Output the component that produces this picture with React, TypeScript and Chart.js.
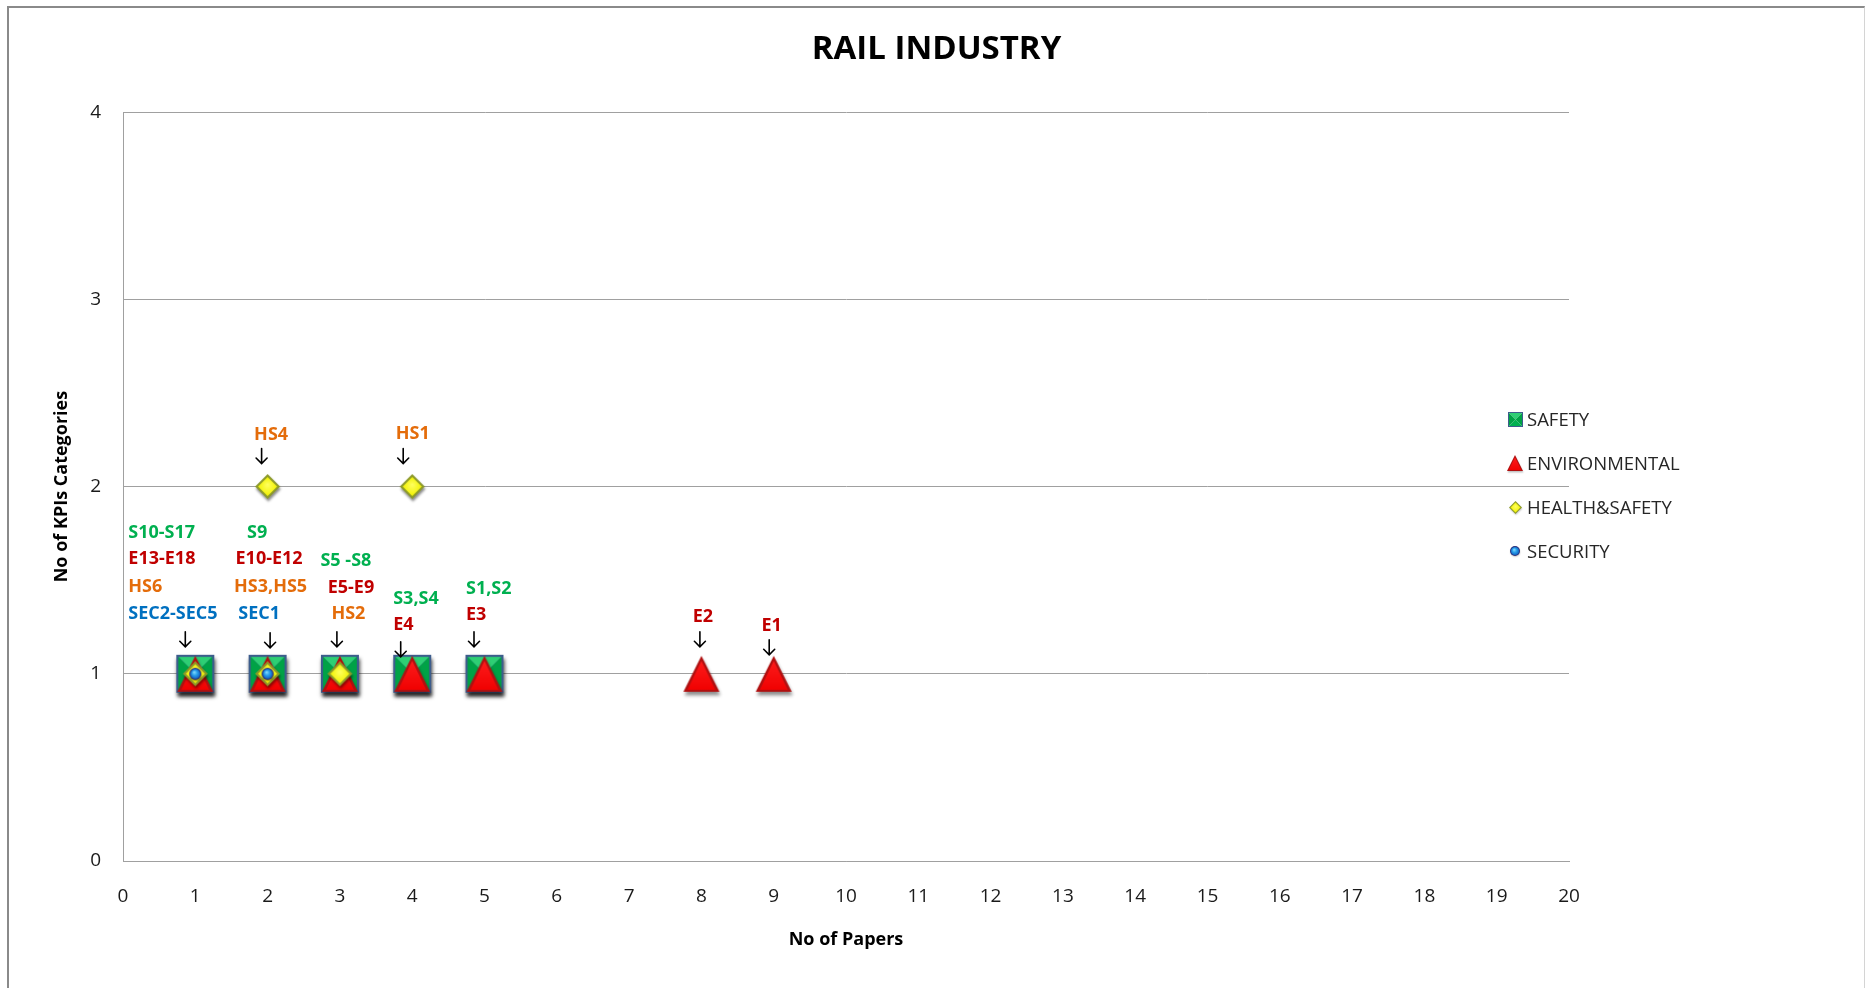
import React, { useEffect, useRef } from "react";
import { Chart, registerables } from "chart.js";

Chart.register(...registerables);

// ---------------- data ----------------
const X_TICKS = [0, 20];
const Y_TICKS = [0, 4];

const SERIES_LABELS = ["SAFETY", "ENVIRONMENTAL", "HEALTH&SAFETY", "SECURITY"];

const SAFETY_X = [1, 2, 3, 4, 5];
const SAFETY_Y = [1, 1, 1, 1, 1];

const ENV_X = [1, 2, 3, 4, 5, 8, 9];
const ENV_Y = [1, 1, 1, 1, 1, 1, 1];

const HS_X = [1, 2, 3, 2, 4];
const HS_Y = [1, 1, 1, 2, 2];

const SEC_X = [1, 2];
const SEC_Y = [1, 1];

// annotation groups (anchored on data points)
const NOTE_X = [1, 2, 3, 4, 5, 8, 9, 2, 4];
const NOTE_Y = [1, 1, 1, 1, 1, 1, 1, 2, 2];
const NOTE_TEXT = [
  ["S10-S17", "E13-E18", "HS6", "SEC2-SEC5"],
  ["S9", "E10-E12", "HS3,HS5", "SEC1"],
  ["S5 -S8", "E5-E9", "HS2"],
  ["S3,S4", "E4"],
  ["S1,S2", "E3"],
  ["E2"],
  ["E1"],
  ["HS4"],
  ["HS1"],
];
const NOTE_SERIES = [
  [0, 1, 2, 3],
  [0, 1, 2, 3],
  [0, 1, 2],
  [0, 1],
  [0, 1],
  [1],
  [1],
  [2],
  [2],
];

// ---------------- styles / layout ----------------
const SERIES_TEXT_COLORS = ["#00B050", "#C00000", "#E46C0A", "#0070C0"];
const FONT = "'Open Sans', 'DejaVu Sans', sans-serif";

// per-group pixel offsets from the anchor point: lines [dx, dy(cap centre), align], arrow [dx, dy]
const NOTE_LAYOUT: { lines: [number, number, CanvasTextAlign][]; arrow: [number, number] }[] = [
  { lines: [[-67, -142, "left"], [-67, -116, "left"], [-67, -88, "left"], [-67, -61, "left"]], arrow: [-10, -34] },
  { lines: [[-10.5, -142, "center"], [1.5, -116, "center"], [3, -88, "center"], [-8.5, -61, "center"]], arrow: [2.5, -33] },
  { lines: [[6, -114, "center"], [11, -87, "center"], [8.5, -61, "center"]], arrow: [-3, -34] },
  { lines: [[-19, -76, "left"], [-19, -50, "left"]], arrow: [-11.5, -24] },
  { lines: [[-18.5, -86, "left"], [-18.5, -60, "left"]], arrow: [-10.5, -34] },
  { lines: [[1.5, -58, "center"]], arrow: [-1.5, -34] },
  { lines: [[-2, -49, "center"]], arrow: [-4.5, -26] },
  { lines: [[3.5, -53, "center"]], arrow: [-6, -30] },
  { lines: [[0.5, -53.5, "center"]], arrow: [-9, -30] },
];

// ---------------- marker images ----------------
function mk(w: number, h: number) {
  const c = document.createElement("canvas");
  c.width = w;
  c.height = h;
  return c;
}

function poly(ctx: CanvasRenderingContext2D, pts: number[][], fill: string | CanvasGradient) {
  ctx.beginPath();
  ctx.moveTo(pts[0][0], pts[0][1]);
  for (let i = 1; i < pts.length; i++) ctx.lineTo(pts[i][0], pts[i][1]);
  ctx.closePath();
  ctx.fillStyle = fill;
  ctx.fill();
}

function setShadow(ctx: CanvasRenderingContext2D, s: number, strength: number) {
  ctx.shadowColor = `rgba(0,0,0,${strength})`;
  ctx.shadowBlur = Math.max(1.5, s * 0.1);
  ctx.shadowOffsetX = s * 0.03;
  ctx.shadowOffsetY = s * 0.1;
}

function squareIcon(s: number, shadow: number) {
  const pad = Math.ceil(s * 0.35);
  const c = mk(s + 2 * pad, s + 2 * pad);
  const ctx = c.getContext("2d")!;
  const x0 = pad, y0 = pad, x1 = pad + s, y1 = pad + s, cx = pad + s / 2, cy = pad + s / 2;
  if (shadow > 0) {
    ctx.save();
    setShadow(ctx, s, shadow);
    ctx.fillStyle = "#3f5f8f";
    ctx.fillRect(x0, y0, s, s);
    ctx.restore();
  }
  poly(ctx, [[x0, y0], [x1, y0], [cx, cy]], "#2ecf74");
  poly(ctx, [[x1, y0], [x1, y1], [cx, cy]], "#00a246");
  poly(ctx, [[x0, y1], [x1, y1], [cx, cy]], "#00b050");
  poly(ctx, [[x0, y0], [x0, y1], [cx, cy]], "#00a246");
  const lw = Math.max(1, s * 0.055);
  ctx.strokeStyle = "#3d5d8c";
  ctx.lineWidth = lw;
  ctx.strokeRect(x0 + lw / 2, y0 + lw / 2, s - lw, s - lw);
  return c;
}

function triangleIcon(s: number, shadow: number) {
  const pad = Math.ceil(s * 0.35);
  const c = mk(s + 2 * pad, s + 2 * pad);
  const ctx = c.getContext("2d")!;
  const x0 = pad, x1 = pad + s, cx = pad + s / 2, top = pad, bot = pad + s;
  ctx.save();
  if (shadow > 0) setShadow(ctx, s, shadow);
  poly(ctx, [[cx, top], [x1, bot], [x0, bot]], "#b01010");
  ctx.restore();
  const k = s * 0.07;
  const g = ctx.createLinearGradient(0, top, 0, bot);
  g.addColorStop(0, "#ff2020");
  g.addColorStop(1, "#f00000");
  poly(ctx, [[cx, top + k * 2], [x1 - k * 1.6, bot - k * 0.8], [x0 + k * 1.6, bot - k * 0.8]], g);
  return c;
}

function diamondIcon(s: number, shadow: number) {
  const pad = Math.ceil(s * 0.35);
  const c = mk(s + 2 * pad, s + 2 * pad);
  const ctx = c.getContext("2d")!;
  const cx = pad + s / 2, cy = pad + s / 2, r = s / 2;
  ctx.save();
  if (shadow > 0) setShadow(ctx, s, shadow);
  poly(ctx, [[cx, cy - r], [cx + r, cy], [cx, cy + r], [cx - r, cy]], "#8d9a2a");
  ctx.restore();
  const ri = r * 0.76;
  const g = ctx.createRadialGradient(cx, cy - ri * 0.2, 0, cx, cy, ri);
  g.addColorStop(0, "#ffff60");
  g.addColorStop(1, "#f2f200");
  poly(ctx, [[cx, cy - ri], [cx + ri, cy], [cx, cy + ri], [cx - ri, cy]], g);
  return c;
}

function circleIcon(s: number, shadow: number) {
  const pad = Math.ceil(s * 0.4);
  const c = mk(s + 2 * pad, s + 2 * pad);
  const ctx = c.getContext("2d")!;
  const cx = pad + s / 2, cy = pad + s / 2, r = s / 2;
  ctx.save();
  if (shadow > 0) setShadow(ctx, s, shadow);
  ctx.beginPath();
  ctx.arc(cx, cy, r, 0, Math.PI * 2);
  ctx.fillStyle = "#2b2f7a";
  ctx.fill();
  ctx.restore();
  const g = ctx.createRadialGradient(cx - r * 0.2, cy - r * 0.3, 0, cx, cy, r * 0.85);
  g.addColorStop(0, "#8fe0ff");
  g.addColorStop(0.5, "#2aa0ea");
  g.addColorStop(1, "#1060c0");
  ctx.beginPath();
  ctx.arc(cx, cy, r * 0.82, 0, Math.PI * 2);
  ctx.fillStyle = g;
  ctx.fill();
  return c;
}

function drawArrow(ctx: CanvasRenderingContext2D, x: number, y: number) {
  ctx.save();
  ctx.strokeStyle = "#000";
  ctx.lineWidth = 1.6;
  ctx.lineCap = "round";
  ctx.beginPath();
  ctx.moveTo(x, y - 8);
  ctx.lineTo(x, y + 7);
  ctx.moveTo(x - 5.5, y + 1.5);
  ctx.lineTo(x, y + 7);
  ctx.lineTo(x + 5.5, y + 1.5);
  ctx.stroke();
  ctx.restore();
}

export default function App() {
  const ref = useRef<HTMLCanvasElement>(null);

  useEffect(() => {
    const markers = [squareIcon(38, 0.75), triangleIcon(36, 0.45), diamondIcon(25, 0.45), circleIcon(12, 0.4)];
    const legendIcons = [squareIcon(15, 0), triangleIcon(16, 0.25), diamondIcon(13, 0.2), circleIcon(10, 0.2)];

    const pts = (xs: number[], ys: number[]) => xs.map((x, i) => ({ x, y: ys[i] }));

    const notesPlugin = {
      id: "notes",
      afterDatasetsDraw(chart: any) {
        const { ctx } = chart;
        const xs = chart.scales.x;
        const ys = chart.scales.y;
        ctx.save();
        ctx.font = `bold 18px ${FONT}`;
        ctx.textBaseline = "alphabetic";
        NOTE_TEXT.forEach((lines, g) => {
          const px = xs.getPixelForValue(NOTE_X[g]);
          const py = ys.getPixelForValue(NOTE_Y[g]);
          const lay = NOTE_LAYOUT[g];
          lines.forEach((t, i) => {
            const [dx, dy, align] = lay.lines[i];
            ctx.fillStyle = SERIES_TEXT_COLORS[NOTE_SERIES[g][i]];
            ctx.textAlign = align;
            ctx.fillText(t, px + dx, py + dy + 6.4);
          });
          drawArrow(ctx, px + lay.arrow[0], py + lay.arrow[1]);
        });
        ctx.restore();
      },
    };

    const legendPlugin = {
      id: "sideLegend",
      afterDraw(chart: any) {
        const { ctx, chartArea } = chart;
        const mx = chartArea.right - 54;
        const midY = (chartArea.top + chartArea.bottom) / 2;
        ctx.save();
        ctx.font = `18.5px ${FONT}`;
        ctx.fillStyle = "#262626";
        ctx.textAlign = "left";
        ctx.textBaseline = "alphabetic";
        chart.data.datasets.forEach((ds: any, i: number) => {
          const cy = midY - 67.5 + i * 44;
          const icon = legendIcons[i];
          ctx.drawImage(icon, Math.round(mx - icon.width / 2), Math.round(cy - icon.height / 2));
          ctx.fillText(ds.label, mx + 12, cy + 6.6);
        });
        ctx.restore();
      },
    };

    const chart = new Chart(ref.current!, {
      type: "scatter",
      data: {
        datasets: [
          { label: SERIES_LABELS[0], data: pts(SAFETY_X, SAFETY_Y), pointStyle: markers[0], pointRadius: 18, order: 4 },
          { label: SERIES_LABELS[1], data: pts(ENV_X, ENV_Y), pointStyle: markers[1], pointRadius: 18, order: 3 },
          { label: SERIES_LABELS[2], data: pts(HS_X, HS_Y), pointStyle: markers[2], pointRadius: 12, order: 2 },
          { label: SERIES_LABELS[3], data: pts(SEC_X, SEC_Y), pointStyle: markers[3], pointRadius: 6, order: 1 },
        ] as any,
      },
      options: {
        animation: false,
        responsive: false,
        events: [],
        layout: { padding: { left: 0, right: 0, top: 0, bottom: 0 } },
        plugins: {
          legend: { display: false },
          tooltip: { enabled: false },
          title: {
            display: true,
            text: "RAIL INDUSTRY",
            color: "#000",
            font: { family: FONT, size: 33, weight: "bold" },
            padding: { top: 22, bottom: 42.5 },
          },
        },
        scales: {
          x: {
            type: "linear",
            min: X_TICKS[0],
            max: X_TICKS[1],
            ticks: { stepSize: 1, padding: 24, color: "#1a1a1a", font: { family: FONT, size: 19 } },
            grid: { display: false, drawTicks: false },
            border: { display: true, color: "#a0a0a0", width: 1 },
            title: {
              display: true,
              text: "No of Papers",
              color: "#000",
              font: { family: FONT, size: 18, weight: "bold" },
              padding: { top: 0, bottom: 37 },
            },
            afterFit: (s: any) => {
              s.height = 127;
            },
          },
          y: {
            type: "linear",
            min: Y_TICKS[0],
            max: Y_TICKS[1],
            ticks: { stepSize: 1, padding: 22, color: "#1a1a1a", font: { family: FONT, size: 19 } },
            grid: { color: "#a0a0a0", lineWidth: 1, drawTicks: false },
            border: { display: true, color: "#a0a0a0", width: 1 },
            title: {
              display: true,
              text: "No of KPIs Categories",
              color: "#000",
              font: { family: FONT, size: 18, weight: "bold" },
              padding: { top: 42, bottom: 0 },
            },
            afterFit: (s: any) => {
              s.width = 114;
            },
          },
          legendSpace: {
            type: "linear",
            position: "right",
            display: true,
            min: Y_TICKS[0],
            max: Y_TICKS[1],
            ticks: { display: false },
            grid: { display: false, drawTicks: false },
            border: { display: false },
            afterFit: (s: any) => {
              s.width = 295;
            },
          },
        },
      } as any,
      plugins: [notesPlugin, legendPlugin],
    });
    return () => chart.destroy();
  }, []);

  return (
    <div style={{ position: "fixed", left: 0, top: 0, width: 1865, height: 988, background: "#fff", overflow: "hidden" }}>
      <div
        style={{
          position: "absolute",
          left: 7,
          top: 6,
          width: 1858,
          height: 1000,
          boxSizing: "border-box",
          borderLeft: "2px solid #8a8a8a",
          borderTop: "2px solid #8a8a8a",
          borderRight: "1px solid #d4d4d4",
        }}
      />
      <div style={{ position: "absolute", left: 9, top: 8, width: 1855, height: 980 }}>
        <canvas ref={ref} width={1855} height={980} style={{ display: "block" }} />
      </div>
    </div>
  );
}
